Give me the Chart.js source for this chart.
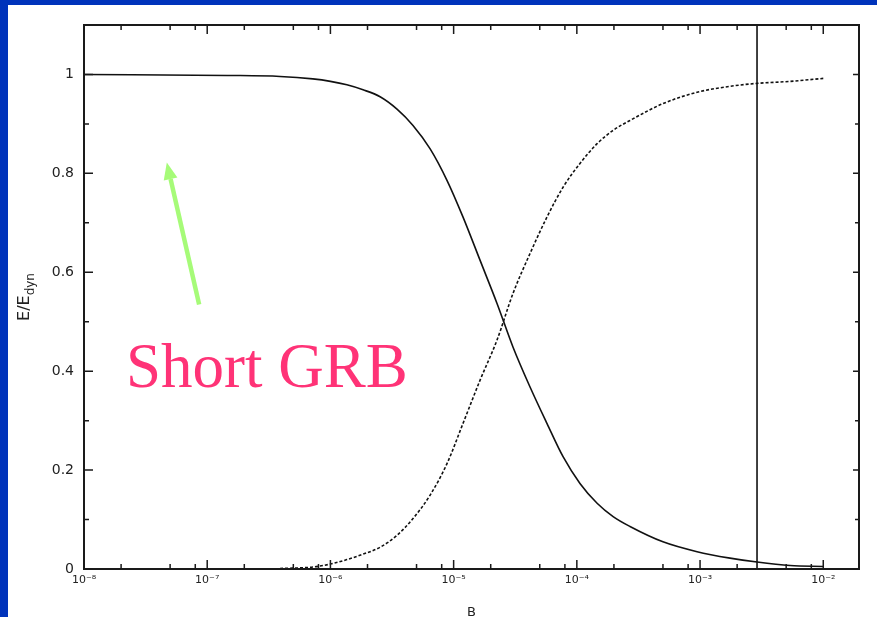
<!DOCTYPE html>
<html lang="en">
<head>
<meta charset="UTF-8">
<title>E/Edyn vs B</title>
<style>
  html, body {
    margin: 0;
    padding: 0;
    width: 877px;
    height: 617px;
    overflow: hidden;
    background: #0033bb;
  }
  .slide {
    position: absolute;
    left: 8px;
    top: 5px;
    width: 869px;
    height: 612px;
    background: #ffffff;
  }
</style>
</head>
<body>
<div class="slide">
  <canvas id="plot"></canvas>
</div>
<script src="https://cdn.jsdelivr.net/npm/chart.js"></script>
<script>
  // magnetization parameter B (log axis)
  var bValues = [1e-8, 1.45e-7, 3.9e-7, 7.2e-7, 1e-6, 1.36e-6, 1.84e-6, 2.53e-6, 3.47e-6, 4.68e-6,
                 6.43e-6, 8.83e-6, 1.19e-5, 1.64e-5, 2.25e-5, 3.03e-5, 4.17e-5, 5.73e-5, 7.73e-5,
                 1.06e-4, 1.46e-4, 1.97e-4, 2.7e-4, 5e-4, 9.46e-4, 1.75e-3, 2.9e-3, 5.38e-3, 1e-2];
  // solid curve (falling)
  var solidValues = [1.0, 0.998, 0.996, 0.991, 0.986, 0.979, 0.969, 0.955, 0.930, 0.897,
                     0.850, 0.786, 0.712, 0.624, 0.537, 0.449, 0.368, 0.294, 0.227,
                     0.173, 0.133, 0.106, 0.086, 0.055, 0.035, 0.022, 0.014, 0.007, 0.005];
  // dashed curve (rising), starts near 4e-7
  var dashedValues = [null, null, 0.001, 0.004, 0.010, 0.019, 0.030, 0.044, 0.068, 0.102,
                      0.149, 0.213, 0.294, 0.382, 0.463, 0.557, 0.638, 0.712, 0.772,
                      0.82, 0.86, 0.887, 0.907, 0.941, 0.964, 0.976, 0.982, 0.986, 0.992];
  var bCut = 2.9e-3;

  var xMin = 1e-8, xMax = 1.95e-2;
  var yMin = 0, yMax = 1.1;
  var xTicks = [1e-8, 1e-7, 1e-6, 1e-5, 1e-4, 1e-3, 1e-2];
  var xTickLabels = ['10\u207B\u2078', '10\u207B\u2077', '10\u207B\u2076', '10\u207B\u2075', '10\u207B\u2074', '10\u207B\u00B3', '10\u207B\u00B2'];
  var xMinorMult = [2, 5, 8];
  var yTicks = [0, 0.2, 0.4, 0.6, 0.8, 1];
  var yTickLabels = ['0', '0.2', '0.4', '0.6', '0.8', '1'];
  var yMinorTicks = [0.1, 0.3, 0.5, 0.7, 0.9];

  // annotation (arrow + label) in data units
  var arrowTail = {x: 8.6e-8, y: 0.535};
  var arrowHead = {x: 4.7e-8, y: 0.822};
  var noteText = 'Short GRB';
  var notePos = {x: 2.19e-8, y: 0.368};

  function pairs(xs, ys) {
    var out = [];
    for (var i = 0; i < xs.length; i++) {
      if (ys[i] !== null) out.push({x: xs[i], y: ys[i]});
    }
    return out;
  }

  // frame with inward ticks, y title with subscript, arrow and label
  var framePlugin = {
    id: 'frame',
    afterDraw: function(chart) {
      var ctx = chart.ctx, a = chart.chartArea;
      var xs = chart.scales.x, ys = chart.scales.y;
      ctx.save();
      ctx.strokeStyle = '#1a1a1a';
      ctx.lineWidth = 2;
      ctx.strokeRect(a.left, a.top, a.right - a.left, a.bottom - a.top);

      function xTick(v, len) {
        var px = xs.getPixelForValue(v);
        if (px < a.left - 0.5 || px > a.right + 0.5) return;
        ctx.beginPath();
        ctx.moveTo(px, a.bottom); ctx.lineTo(px, a.bottom - len);
        ctx.moveTo(px, a.top); ctx.lineTo(px, a.top + len);
        ctx.stroke();
      }
      function yTick(v, len, lenR) {
        var py = ys.getPixelForValue(v);
        ctx.beginPath();
        ctx.moveTo(a.left, py); ctx.lineTo(a.left + len, py);
        ctx.moveTo(a.right, py); ctx.lineTo(a.right - lenR, py);
        ctx.stroke();
      }
      ctx.lineWidth = 1.5;
      xTicks.forEach(function(d) {
        xTick(d, 9);
        xMinorMult.forEach(function(m) { xTick(d * m, 5); });
      });
      yTicks.forEach(function(v) { yTick(v, 9, 6); });
      yMinorTicks.forEach(function(v) { yTick(v, 5, 4); });

      // y title E/E_dyn
      var cy = (a.top + a.bottom) / 2;
      ctx.translate(21, cy);
      ctx.rotate(-Math.PI / 2);
      ctx.fillStyle = '#222';
      ctx.textBaseline = 'alphabetic';
      ctx.font = '16px "DejaVu Sans"';
      var w1 = ctx.measureText('E/E').width;
      ctx.font = '12px "DejaVu Sans"';
      var w2 = ctx.measureText('dyn').width;
      var start = -(w1 + w2) / 2;
      ctx.font = '16px "DejaVu Sans"';
      ctx.fillText('E/E', start, 0);
      ctx.font = '12px "DejaVu Sans"';
      ctx.fillText('dyn', start + w1, 5);
      ctx.setTransform(1, 0, 0, 1, 0, 0);
      ctx.restore();

      // arrow
      ctx.save();
      var tx = xs.getPixelForValue(arrowTail.x), ty = ys.getPixelForValue(arrowTail.y);
      var hx = xs.getPixelForValue(arrowHead.x), hy = ys.getPixelForValue(arrowHead.y);
      var ang = Math.atan2(hy - ty, hx - tx);
      var headLen = 17, headW = 7;
      var bx = hx - headLen * Math.cos(ang), by = hy - headLen * Math.sin(ang);
      ctx.strokeStyle = '#a6fb78';
      ctx.fillStyle = '#a6fb78';
      ctx.lineWidth = 4.5;
      ctx.beginPath();
      ctx.moveTo(tx, ty); ctx.lineTo(bx, by);
      ctx.stroke();
      ctx.beginPath();
      ctx.moveTo(hx, hy);
      ctx.lineTo(bx + headW * Math.sin(ang), by - headW * Math.cos(ang));
      ctx.lineTo(bx - headW * Math.sin(ang), by + headW * Math.cos(ang));
      ctx.closePath();
      ctx.fill();

      // label
      ctx.font = '63px "Liberation Serif"';
      ctx.fillStyle = '#ff3377';
      ctx.textAlign = 'left';
      ctx.textBaseline = 'alphabetic';
      ctx.fillText(noteText, xs.getPixelForValue(notePos.x), ys.getPixelForValue(notePos.y));
      ctx.restore();
    }
  };

  var ctx = document.getElementById('plot').getContext('2d');
  new Chart(ctx, {
    type: 'line',
    data: {
      datasets: [
        {
          data: pairs(bValues, solidValues),
          borderColor: '#111',
          borderWidth: 1.6,
          pointRadius: 0,
          cubicInterpolationMode: 'monotone'
        },
        {
          data: pairs(bValues, dashedValues),
          borderColor: '#111',
          borderWidth: 1.6,
          borderDash: [3, 2],
          pointRadius: 0,
          cubicInterpolationMode: 'monotone'
        },
        {
          data: [{x: bCut, y: yMin}, {x: bCut, y: yMax}],
          borderColor: '#111',
          borderWidth: 1.6,
          pointRadius: 0
        }
      ]
    },
    options: {
      responsive: true,
      maintainAspectRatio: false,
      animation: false,
      layout: { padding: { left: 0, top: 20, right: 18, bottom: 0 } },
      plugins: { legend: { display: false }, tooltip: { enabled: false } },
      scales: {
        x: {
          type: 'logarithmic',
          min: xMin,
          max: xMax,
          grid: { display: false, drawTicks: false },
          border: { display: false },
          afterBuildTicks: function(scale) {
            scale.ticks = xTicks.map(function(v) { return {value: v}; });
          },
          afterFit: function(scale) { scale.height = 48; },
          ticks: {
            autoSkip: false,
            maxRotation: 0,
            padding: 5,
            color: '#222',
            font: { family: 'DejaVu Sans', size: 11 },
            callback: function(value) {
              var i = xTicks.indexOf(value);
              return i >= 0 ? xTickLabels[i] : '';
            }
          },
          title: {
            display: true,
            text: 'B',
            color: '#222',
            font: { family: 'DejaVu Sans', size: 13 },
            padding: { top: 0, bottom: -3 }
          }
        },
        y: {
          type: 'linear',
          min: yMin,
          max: yMax,
          grid: { display: false, drawTicks: false },
          border: { display: false },
          afterBuildTicks: function(scale) {
            scale.ticks = yTicks.map(function(v) { return {value: v}; });
          },
          afterFit: function(scale) { scale.width = 76; },
          ticks: {
            padding: 10,
            color: '#222',
            font: { family: 'DejaVu Sans', size: 14 },
            callback: function(value) {
              var i = yTicks.indexOf(value);
              return i >= 0 ? yTickLabels[i] : '';
            }
          }
        }
      }
    },
    plugins: [framePlugin]
  });
</script>
</body>
</html>
